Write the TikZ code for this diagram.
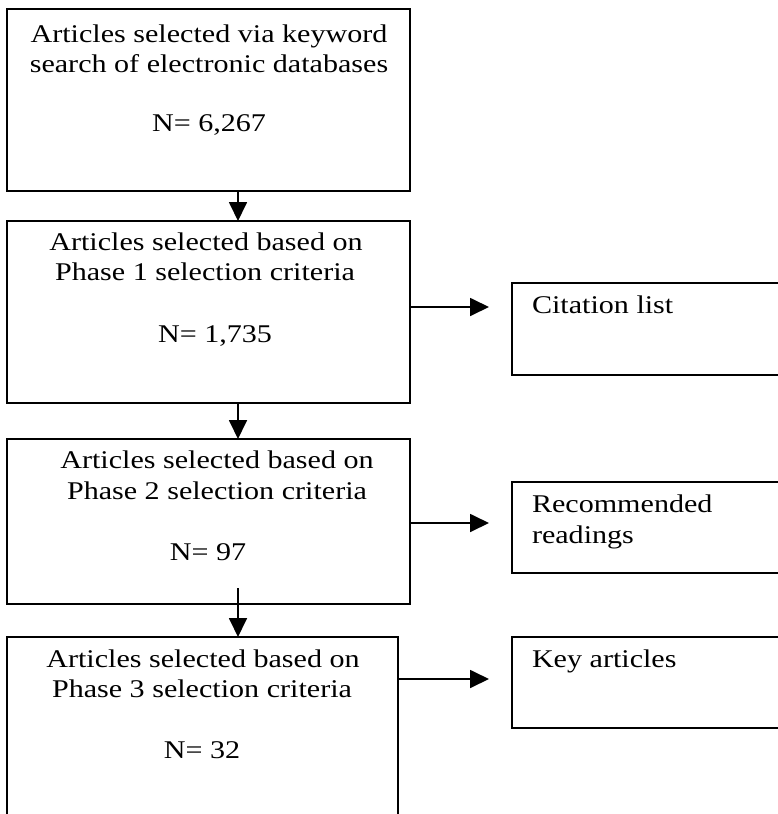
\documentclass[tikz,border=0pt]{standalone}
\usepackage{fontspec}
\setmainfont{Liberation Serif}[FakeStretch=1.18]
\usetikzlibrary{arrows.meta}
\begin{document}
\begin{tikzpicture}[x=1pt,y=-1pt,
  box/.style={draw, line width=1.8pt, rectangle, inner sep=0pt, outer sep=0pt, anchor=north west},
  lbl/.style={anchor=base, inner sep=0pt, outer sep=0pt, font=\fontsize{25.5}{30}\selectfont},
  lbll/.style={lbl, anchor=base west},
  arr/.style={line width=1.8pt, -{Triangle[length=19pt, width=18pt]}}]
\useasboundingbox (0,0) rectangle (778,814);
\clip (0,0) rectangle (778,814);
% main boxes
\node[box, minimum width=403pt, minimum height=182pt] (b1) at (7,9) {};
\node[box, minimum width=403pt, minimum height=182pt] (b2) at (7,221) {};
\node[box, minimum width=403pt, minimum height=165pt] (b3) at (7,439) {};
\node[box, minimum width=391pt, minimum height=200pt] (b4) at (7,637) {};
% side boxes
\node[box, minimum width=280pt, minimum height=92pt] (r1) at (512,283) {};
\node[box, minimum width=280pt, minimum height=91pt] (r2) at (512,482) {};
\node[box, minimum width=280pt, minimum height=91pt] (r3) at (512,637) {};
% texts
\node[lbl] (t1a) at (209,42) {Articles selected via keyword};
\node[lbl] (t1b) at (209,72) {search of electronic databases};
\node[lbl] (t1n) at (209,131) {N= 6,267};
\node[lbl] (t2a) at (206,250) {Articles selected based on};
\node[lbl] (t2b) at (205,280) {Phase 1 selection criteria};
\node[lbl] (t2n) at (215,342) {N= 1,735};
\node[lbl] (t3a) at (217,468) {Articles selected based on};
\node[lbl] (t3b) at (217,499) {Phase 2 selection criteria};
\node[lbl] (t3n) at (208,560) {N= 97};
\node[lbl] (t4a) at (203,667) {Articles selected based on};
\node[lbl] (t4b) at (202,697) {Phase 3 selection criteria};
\node[lbl] (t4n) at (202,758) {N= 32};
\node[lbll] (s1) at (532,313) {Citation list};
\node[lbll] (s2a) at (532,512) {Recommended};
\node[lbll] (s2b) at (532,543) {readings};
\node[lbll] (s3) at (532,667) {Key articles};
% connectors
\coordinate (ax) at (238,0);
\coordinate (a3s) at (238,588);
\coordinate (h1) at (489,307);
\coordinate (h2) at (489,523);
\coordinate (h3) at (489,679);
\draw[arr] (b1.south -| ax) -- (b2.north -| ax);
\draw[arr] (b2.south -| ax) -- (b3.north -| ax);
\draw[arr] (a3s) -- (b4.north -| ax);
\draw[arr] (b2.east |- h1) -- (h1);
\draw[arr] (b3.east |- h2) -- (h2);
\draw[arr] (b4.east |- h3) -- (h3);
\end{tikzpicture}
\end{document}
